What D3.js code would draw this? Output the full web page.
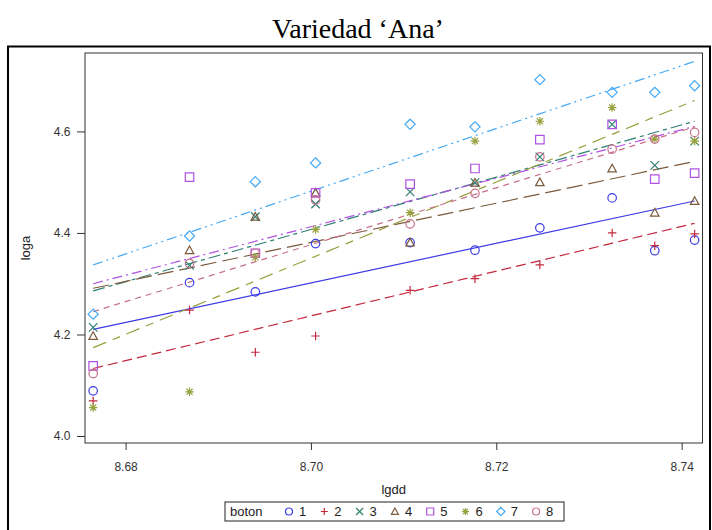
<!DOCTYPE html>
<html>
<head>
<meta charset="utf-8">
<script src="https://cdn.jsdelivr.net/npm/d3@7"></script>
<style>
  body { margin: 0; background: #fff; }
  svg text { font-family: "Liberation Sans Narrow", "Arial Narrow", "Liberation Sans", sans-serif; }
</style>
</head>
<body>
<svg id="chart" width="712" height="530"></svg>
<script>
// lgdd values where the plants were measured
const lgdd = [8.6765, 8.6869, 8.6940, 8.7005, 8.7107, 8.7177, 8.7247, 8.7325, 8.7371, 8.7414];

// loga per boton
const boton1 = [4.089, 4.302, 4.284, 4.379, 4.381, 4.366, 4.410, 4.469, 4.365, 4.386];
const boton2 = [4.069, 4.248, 4.165, 4.197, 4.287, 4.310, 4.337, 4.400, 4.375, 4.398];
const boton3 = [4.214, 4.336, 4.432, 4.457, 4.481, 4.499, 4.550, 4.614, 4.533, 4.581];
const boton4 = [4.197, 4.366, 4.432, 4.479, 4.381, 4.499, 4.500, 4.527, 4.440, 4.463];
const boton5 = [4.138, 4.510, 4.360, 4.479, 4.496, 4.527, 4.584, 4.614, 4.506, 4.518];
const boton6 = [4.056, 4.087, 4.352, 4.407, 4.440, 4.581, 4.620, 4.647, 4.585, 4.581];
const boton7 = [4.240, 4.394, 4.501, 4.538, 4.614, 4.609, 4.702, 4.677, 4.677, 4.690];
const boton8 = [4.123, 4.340, 4.360, 4.465, 4.418, 4.478, 4.550, 4.565, 4.585, 4.598];

// fitted line per boton: loga at first and last lgdd
const fitStart = [4.210, 4.133, 4.286, 4.291, 4.300, 4.174, 4.337, 4.245];
const fitEnd   = [4.463, 4.419, 4.620, 4.541, 4.610, 4.661, 4.738, 4.609];

const botonLabels = ["1", "2", "3", "4", "5", "6", "7", "8"];
const xTicks = [8.68, 8.70, 8.72, 8.74];
const yTicks = [4.0, 4.2, 4.4, 4.6];

const allBoton = [boton1, boton2, boton3, boton4, boton5, boton6, boton7, boton8];
const colors = ["#3b3be6", "#c4283e", "#2f7f72", "#7c5a3c", "#b052e2", "#96a03c", "#45a9f5", "#c6708a"];
const dashes = ["", "10,5", "12,4,4,4", "16,6", "10,4,2,4", "14,7,8,7", "10,4,2,4,2,4", "6,5"];
const shapes = ["circle", "plus", "x", "triangle", "square", "star", "diamond", "circle"];

const svg = d3.select("#chart");
const margin = { left: 85, right: 702.5, top: 53, bottom: 443 };

const x = d3.scaleLinear().domain([8.67562, 8.74225]).range([margin.left, margin.right]);
const y = d3.scaleLinear().domain([3.9862, 4.7545]).range([margin.bottom, margin.top]);

// title
svg.append("text")
  .attr("x", 358).attr("y", 38)
  .attr("text-anchor", "middle")
  .style("font-family", "'Liberation Serif', 'Times New Roman', serif")
  .style("font-size", "28px")
  .text("Variedad \u2018Ana\u2019");

// outer frame
svg.append("rect")
  .attr("x", 8).attr("y", 46.5)
  .attr("width", 702).attr("height", 500)
  .attr("fill", "none").attr("stroke", "#000").attr("stroke-width", 2);

// axes
const xAxis = svg.append("g")
  .attr("transform", `translate(0,${margin.bottom})`)
  .call(d3.axisBottom(x).tickValues(xTicks).tickFormat(d3.format(".2f")).tickSize(7).tickSizeOuter(0));
const yAxis = svg.append("g")
  .attr("transform", `translate(${margin.left},0)`)
  .call(d3.axisLeft(y).tickValues(yTicks).tickFormat(d3.format(".1f")).tickSize(8).tickSizeOuter(0));

[xAxis, yAxis].forEach((g) => {
  g.select(".domain").remove();
  g.selectAll(".tick line").attr("stroke", "#333");
  g.selectAll(".tick text").style("font-size", "12px").attr("fill", "#333");
});
xAxis.selectAll(".tick text").attr("dy", "1.5em");
yAxis.selectAll(".tick text").attr("dx", "-0.3em");

svg.append("text")
  .attr("x", (margin.left + margin.right) / 2).attr("y", 494)
  .attr("text-anchor", "middle").style("font-size", "13px").attr("fill", "#222")
  .text("lgdd");

svg.append("text")
  .attr("transform", "translate(30,248) rotate(-90)")
  .attr("text-anchor", "middle").style("font-size", "13px").attr("fill", "#222")
  .text("loga");

// plot area border
svg.append("rect")
  .attr("x", margin.left).attr("y", margin.top)
  .attr("width", margin.right - margin.left).attr("height", margin.bottom - margin.top)
  .attr("fill", "none").attr("stroke", "#333").attr("stroke-width", 1);

// marker path generator
function markerPath(shape, s) {
  const h = s / 2;
  switch (shape) {
    case "plus": return `M${-h},0H${h}M0,${-h}V${h}`;
    case "x": return `M${-h},${-h}L${h},${h}M${-h},${h}L${h},${-h}`;
    case "triangle": return `M0,${-h}L${h},${h * 0.8}L${-h},${h * 0.8}Z`;
    case "square": return `M${-h},${-h}H${h}V${h}H${-h}Z`;
    case "diamond": return `M0,${-h * 1.2}L${h * 1.2},0L0,${h * 1.2}L${-h * 1.2},0Z`;
    case "star": {
      const d = h * 0.72;
      return `M${-h},0H${h}M0,${-h}V${h}M${-d},${-d}L${d},${d}M${-d},${d}L${d},${-d}`;
    }
    default: return d3.symbol(d3.symbolCircle, Math.PI * h * h)();
  }
}

const plot = svg.append("g");
const first = lgdd[0], last = lgdd[lgdd.length - 1];

// fitted lines
allBoton.forEach((vals, i) => {
  plot.append("line")
    .attr("x1", x(first)).attr("y1", y(fitStart[i]))
    .attr("x2", x(last)).attr("y2", y(fitEnd[i]))
    .attr("stroke", colors[i]).attr("stroke-width", 1.2)
    .attr("stroke-dasharray", dashes[i]);
});

// points
allBoton.forEach((vals, i) => {
  plot.selectAll(null)
    .data(vals.map((v, j) => ({ x: lgdd[j], y: v })))
    .enter()
    .append("path")
    .attr("transform", (d) => `translate(${x(d.x)},${y(d.y)})`)
    .attr("d", markerPath(shapes[i], 8.5))
    .attr("fill", "none")
    .attr("stroke", colors[i])
    .attr("stroke-width", 1.2);
});

// legend
const legend = svg.append("g");
legend.append("rect")
  .attr("x", 225).attr("y", 502).attr("width", 339).attr("height", 19)
  .attr("fill", "#fff").attr("stroke", "#222").attr("stroke-width", 1);
legend.append("text")
  .attr("x", 230).attr("y", 516).style("font-size", "13px").attr("fill", "#222")
  .text("boton");
botonLabels.forEach((lab, i) => {
  const cx = 289 + i * 35.3;
  legend.append("path")
    .attr("transform", `translate(${cx},511.5)`)
    .attr("d", markerPath(shapes[i], 7))
    .attr("fill", "none").attr("stroke", colors[i]).attr("stroke-width", 1.2);
  legend.append("text")
    .attr("x", cx + 10).attr("y", 516).style("font-size", "13px").attr("fill", "#222")
    .text(lab);
});
</script>
</body>
</html>
